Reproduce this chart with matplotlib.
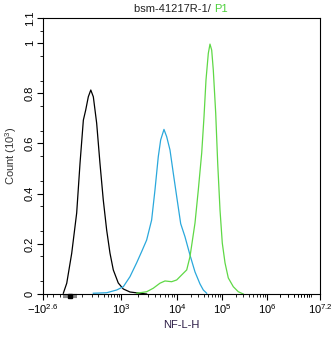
import numpy as np
import matplotlib
matplotlib.use('Agg')
import matplotlib.pyplot as plt
from matplotlib.ticker import FixedLocator

plt.rcParams['font.family'] = ['Liberation Sans', 'DejaVu Sans']
plt.rcParams['mathtext.fontset'] = 'custom'
plt.rcParams['mathtext.rm'] = 'Liberation Sans'
plt.rcParams['mathtext.it'] = 'Liberation Sans'

# NF-L-H intensity vs count (10^3)
black_x = [-65, -31, 13, 52, 80, 110, 133, 161, 190, 223, 272, 328, 394, 473, 564, 671, 868,
           1100, 1449, 2183, 2877]
black_y = [0.003, 0.043, 0.162, 0.323, 0.522, 0.693, 0.733, 0.786, 0.813, 0.786, 0.681, 0.522,
           0.375, 0.255, 0.163, 0.096, 0.044, 0.02, 0.008, 0.003, 0.0]

cyan_x = [223, 473, 801, 1100, 1449, 1905, 2344, 2877, 3532, 4047, 4638, 5117, 5861, 6546, 7500,
          8594, 9880, 12085, 15060, 19450, 25120, 32430, 38400, 45700]
cyan_y = [0.003, 0.005, 0.016, 0.029, 0.069, 0.124, 0.169, 0.215, 0.295, 0.414, 0.547, 0.614,
          0.656, 0.627, 0.574, 0.481, 0.388, 0.28, 0.228, 0.155, 0.088, 0.040, 0.016, 0.003]

green_x = [1905, 2877, 3776, 4966, 6105, 8035, 9880, 12710, 16440, 19450, 25120, 29720, 35400,
           39810, 44080, 49630, 54080, 59020, 64100, 72440, 80200, 90300, 101500, 116700,
           138000, 178400, 230300, 297500]
green_y = [0.003, 0.009, 0.023, 0.043, 0.052, 0.049, 0.056, 0.076, 0.096, 0.149, 0.283, 0.414,
           0.562, 0.706, 0.853, 0.959, 0.996, 0.972, 0.892, 0.721, 0.522, 0.335, 0.203, 0.124,
           0.064, 0.029, 0.009, 0.0]

xmin, xmax = -10 ** 2.6, 10 ** 7.2
major_x = [xmin, 1e3, 1e4, 1e5, 1e6, xmax]
major_lbl = [r'$-10^{2.6}$', r'$10^{3}$', r'$10^{4}$', r'$10^{5}$', r'$10^{6}$', r'$10^{7.2}$']
y_ticks = [0, 0.2, 0.4, 0.6, 0.8, 1, 1.1]
y_lbl = ['0', '0.2', '0.4', '0.6', '0.8', '1', '1.1']

# logicle-like display scale (piecewise in asinh space)
anchor_v = np.array([xmin, 0, 1e3, 1e4, 1e5, 1e6, xmax])
anchor_p = np.array([0, 27, 78, 134, 179, 224, 277], dtype=float)
W = 150.0
anchor_g = np.arcsinh(anchor_v / W)


def fwd(x):
    g = np.arcsinh(np.asarray(x, dtype=float) / W)
    return np.interp(g, anchor_g, anchor_p, left=-1e3, right=1e3)


def inv(p):
    g = np.interp(np.asarray(p, dtype=float), anchor_p, anchor_g)
    return W * np.sinh(g)


fig = plt.figure(figsize=(3.34, 3.37), dpi=100)
ax = fig.add_axes([43 / 334, 1 - 294 / 337, 277 / 334, 276 / 337])
ax.set_xscale('function', functions=(fwd, inv))

ax.plot(black_x, black_y, color='black', lw=0.9)
ax.plot(cyan_x, cyan_y, color='#2aa8dc', lw=0.9)
ax.plot(green_x, green_y, color='#5fd846', lw=0.9)

ax.set_xlim(xmin, xmax)
ax.set_ylim(0, 1.1)

minor_x = [-300, -200, -100] + list(range(100, 1000, 100))
for d in range(3, 7):
    minor_x += [k * 10 ** d for k in range(2, 10)]
minor_x += [k * 1e6 for k in range(2, 10)] + [1e7]
ax.xaxis.set_major_locator(FixedLocator(major_x))
ax.set_xticklabels(major_lbl)
ax.xaxis.set_minor_locator(FixedLocator(minor_x))
ax.set_yticks(y_ticks)
ax.set_yticklabels(y_lbl, rotation=90, va='center')
ax.yaxis.set_minor_locator(FixedLocator(np.arange(0.05, 1.1, 0.1)))

ax.tick_params(axis='both', which='major', direction='out', length=4, width=0.8,
               labelsize=8, pad=2, top=False, right=False)
ax.tick_params(axis='both', which='minor', direction='out', length=2.5, width=0.6,
               top=False, right=False)
for s in ax.spines.values():
    s.set_linewidth(0.8)

# zero marker under the axis
ax.plot([-68, 55], [-0.007, -0.007], color='#888888', lw=3, solid_capstyle='butt', clip_on=False)
ax.plot([0], [-0.007], 's', color='black', ms=3, clip_on=False)

ax.set_xlabel('NF-L-H', fontsize=8, color='#2b1b45', labelpad=3)
ax.set_ylabel('Count (10$^{3}$)', fontsize=8, color='#333333', labelpad=4)

fig.text(0.641, 0.965, 'bsm-41217R-1/ ', ha='right', va='baseline', fontsize=8, color='#222222')
fig.text(0.641, 0.965, 'P1', ha='left', va='baseline', fontsize=8, color='#4cd03a')

fig.savefig('out.png', dpi=100)
